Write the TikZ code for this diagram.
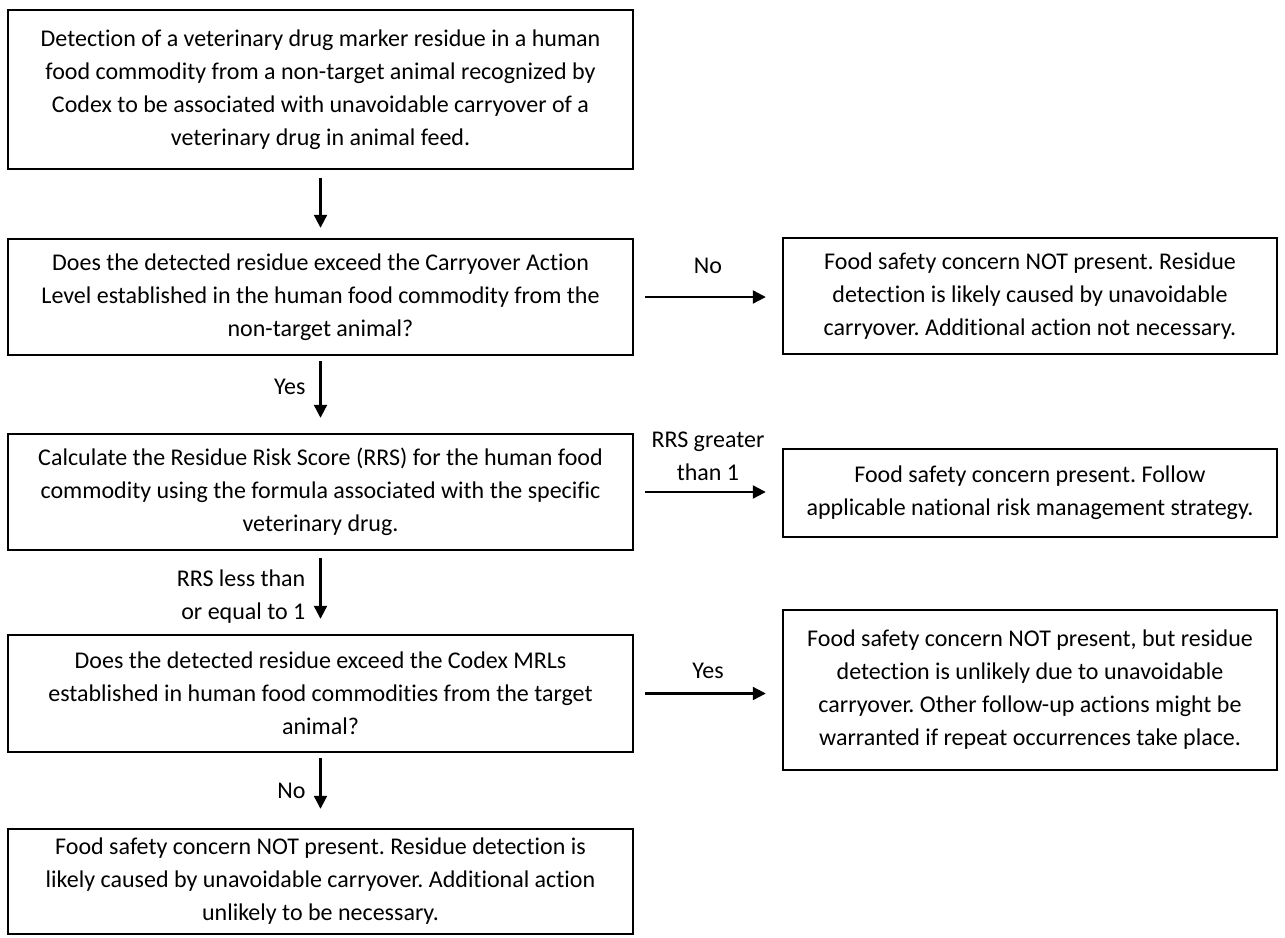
\documentclass[tikz,border=0pt]{standalone}
\usepackage{fontspec}
\setmainfont{Carlito}[Ligatures=NoCommon]
\usetikzlibrary{arrows.meta}
\frenchspacing
\begin{document}
\begin{tikzpicture}[x=1pt,y=-1pt,
  txt/.style={font=\fontsize{24}{33}\selectfont},
  box/.style={txt, draw, line width=2.4pt, rectangle, align=center, inner sep=0pt},
  lbox/.style={box, minimum width=625pt},
  rbox/.style={box, minimum width=494pt},
  arr/.style={line width=2.2pt, -{Triangle[length=13pt,width=13pt]}},
  lab/.style={txt, align=center, inner sep=0pt}]
\useasboundingbox (0,0) rectangle (1285,937);
\node[lbox, minimum height=159pt] (b1) at (320.5,89.5)
  {Detection of a veterinary drug marker residue in a human\\
   food commodity from a non-target animal recognized by\\
   Codex to be associated with unavoidable carryover of a\\
   veterinary drug in animal feed.};
\node[lbox, minimum height=116pt] (b2) at (320.5,297)
  {Does the detected residue exceed the Carryover Action\\
   Level established in the human food commodity from the\\
   non-target animal?};
\node[rbox, minimum height=116pt] (r1) at (1030,296)
  {Food safety concern NOT present. Residue\\
   detection is likely caused by unavoidable\\
   carryover. Additional action not necessary.};
\node[lbox, minimum height=116pt] (b3) at (320.5,492)
  {Calculate the Residue Risk Score (RRS) for the human food\\
   commodity using the formula associated with the specific\\
   veterinary drug.};
\node[rbox, minimum height=88pt] (r2) at (1030,493)
  {Food safety concern present. Follow\\
   applicable national risk management strategy.};
\node[lbox, minimum height=117pt] (b4) at (320.5,693.5)
  {Does the detected residue exceed the Codex MRLs\\
   established in human food commodities from the target\\
   animal?};
\node[rbox, minimum height=160pt] (r3) at (1030,690)
  {Food safety concern NOT present, but residue\\
   detection is unlikely due to unavoidable\\
   carryover. Other follow-up actions might be\\
   warranted if repeat occurrences take place.};
\node[lbox, minimum height=105pt] (b5) at (320.5,881.5)
  {Food safety concern NOT present. Residue detection is\\
   likely caused by unavoidable carryover. Additional action\\
   unlikely to be necessary.};
% vertical connectors
\draw[arr, shorten <=8pt, shorten >=10pt] (b1.south) -- (b2.north);
\draw[arr, shorten <=5pt, shorten >=15pt] (b2.south) -- (b3.north)
  node[lab, pos=0.4, left=14pt] {Yes};
\draw[arr, shorten <=7pt, shorten >=15pt] (b3.south) -- (b4.north)
  node[lab, pos=0.55, left=14pt, align=right] {RRS less than\\or equal to 1};
\draw[arr, shorten <=5pt, shorten >=19pt] (b4.south) -- (b5.north)
  node[lab, pos=0.5, left=14pt] {No};
% horizontal connectors
\draw[arr, shorten <=11pt, shorten >=16pt] (b2.east) -- (r1.west |- b2.east)
  node[lab, midway, above=22pt] {No};
\draw[arr, shorten <=11pt, shorten >=16pt] (b3.east) -- (r2.west |- b3.east)
  node[lab, midway, above=10pt] {RRS greater\\than 1};
\draw[arr, shorten <=11pt, shorten >=16pt] (b4.east) -- (r3.west |- b4.east)
  node[lab, midway, above=14pt] {Yes};
\end{tikzpicture}
\end{document}
